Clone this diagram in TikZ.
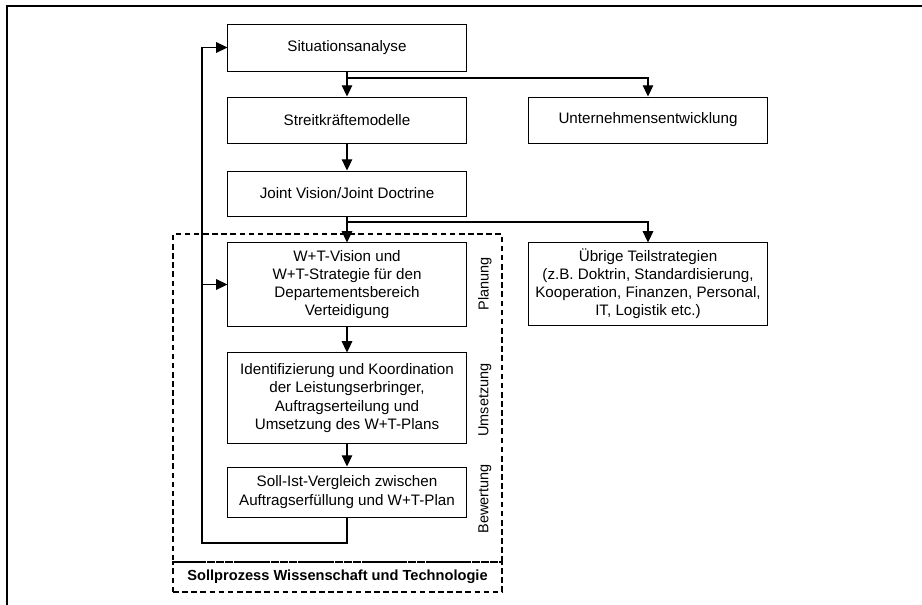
\documentclass[tikz,border=0pt]{standalone}
\usepackage{fontspec}
\setmainfont{Liberation Sans}
\usepackage{tikz}
\usetikzlibrary{arrows.meta}

\begin{document}
\begin{tikzpicture}[x=0.025cm, y=-0.025cm,
    box/.style={draw, line width=0.7pt, minimum width=5.95cm, align=center, inner sep=2pt, font=\fontsize{10.8}{12.9}\selectfont},
    arr/.style={line width=0.8pt, -{Triangle[length=8pt, width=7.5pt]}},
    phase/.style={rotate=90, inner sep=0pt, font=\fontsize{10.3}{12}\selectfont},
    sollbox/.style={draw, line width=1.3pt, dash pattern=on 4pt off 2.5pt, minimum width=8.225cm, inner sep=0pt}]
    \useasboundingbox (0,0) rectangle (922,605);
    \draw[line width=1.6pt] (7,605) -- (7,6) -- (922,6);

    \node[box, minimum height=1.175cm] (sit) at (347,47.5) {Situationsanalyse};
    \node[box, minimum height=1.15cm] (streit) at (347,120) {Streitkräftemodelle};
    \node[box, minimum height=1.125cm] (joint) at (347,193.5) {Joint Vision/Joint Doctrine};
    \node[box, minimum height=2.075cm] (vision) at (347,284.5) {W+T-Vision und\\W+T-Strategie für den\\Departementsbereich\\Verteidigung};
    \node[box, minimum height=2.25cm] (umsetz) at (347,398) {Identifizierung und Koordination\\der Leistungserbringer,\\Auftragserteilung und\\Umsetzung des W+T-Plans};
    \node[box, minimum height=1.25cm] (soll) at (347,492) {Soll-Ist-Vergleich zwischen\\Auftragserfüllung und W+T-Plan};
    \node[box, minimum height=1.15cm] (unter) at (648,120) {Unternehmensentwicklung};
    \node[box, minimum height=2.05cm] (uebrig) at (648,284) {Übrige Teilstrategien\\(z.B. Doktrin, Standardisierung,\\Kooperation, Finanzen, Personal,\\IT, Logistik etc.)};

    \node[sollbox, minimum height=8.2cm] (sollbereich) at (337.5,398) {};
    \node[sollbox, minimum height=0.75cm, font=\bfseries\fontsize{10.4}{12}\selectfont] (sollprozess) at (337.5,577) {Sollprozess Wissenschaft und Technologie};

    \node[phase] (planung) at (485,284) {Planung};
    \node[phase] (umsetzung) at (485,400) {Umsetzung};
    \node[phase] (bewertung) at (485,499) {Bewertung};

    \coordinate (b1) at (347,78);
    \coordinate (b2) at (347,222);
    \coordinate (fb1) at (347,543);
    \coordinate (fb2) at (202,543);

    \draw[arr] (sit) -- (streit);
    \draw[arr] (b1) -| (unter);
    \draw[arr] (streit) -- (joint);
    \draw[arr] (joint) -- (vision);
    \draw[arr] (b2) -| (uebrig);
    \draw[arr] (vision) -- (umsetz);
    \draw[arr] (umsetz) -- (soll);
    \draw[arr] (soll) -- (fb1) -- (fb2) |- (sit);
    \draw[arr] (fb2 |- vision) -- (vision);
\end{tikzpicture}
\end{document}
